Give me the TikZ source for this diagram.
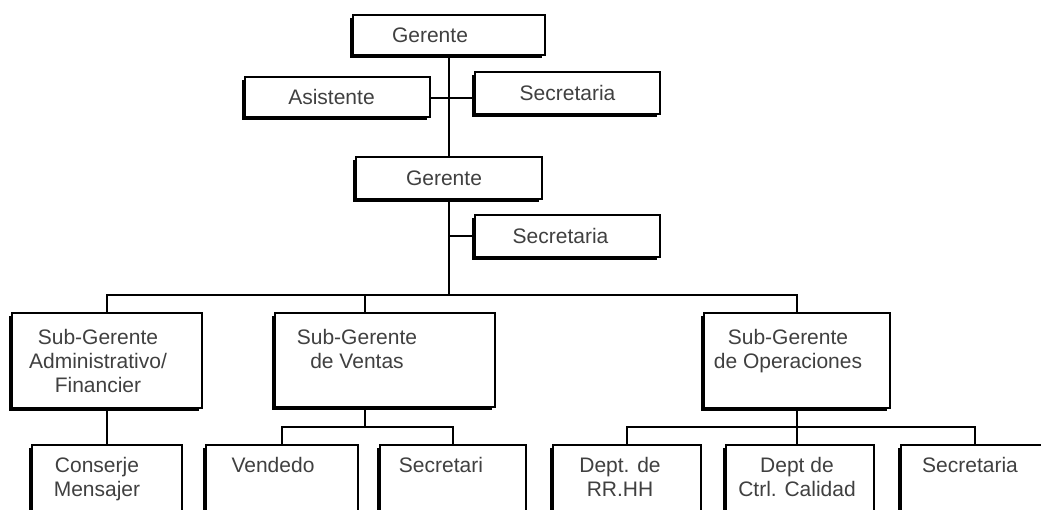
\documentclass[tikz,border=0pt]{standalone}
\usepackage{fontspec}
\setmainfont{Liberation Sans}
\usetikzlibrary{shadows}
\newcommand{\bxt}[5]{\parbox[c][#2pt][t]{#1pt}{\vspace*{#3pt}\centering\hspace*{#4pt}\begin{tabular}{@{}c@{}}#5\end{tabular}}}
\tikzset{
  box/.style={draw=black, line width=1.5pt, fill=white, inner sep=0pt, outer sep=0pt,
    text=black!75, font=\fontsize{21}{24}\selectfont,
    drop shadow={shadow xshift=-3pt, shadow yshift=-3pt, fill=black, opacity=1}},
  conn/.style={draw=black, line width=1.5pt}
}
\begin{document}
\begin{tikzpicture}[x=1pt,y=-1pt]
\useasboundingbox (0,0) rectangle (1041,509);
\fill[white] (0,0) rectangle (1041,509);
\clip (0,0) rectangle (1041,509);
% top level
\node[box] (g1) at (449,35) {\bxt{192}{40}{10.7}{-38}{Gerente}};
\node[box] (asis) at (337.5,97) {\bxt{185}{40}{10.7}{-12}{Asistente}};
\node[box] (sec1) at (567.5,93) {\bxt{185}{42}{11.7}{0}{Secretaria}};
\node[box] (g2) at (449,178) {\bxt{186}{42}{11.7}{-10}{Gerente}};
\node[box] (sec2) at (567.5,236) {\bxt{185}{42}{11.7}{-14}{Secretaria}};
% sub-managers
\node[box] (sga) at (107,360.5) {\bxt{190}{95}{14.7}{-18}{Sub-Gerente\\Administrativo/\\Financier}};
\node[box] (sgv) at (385,360) {\bxt{220}{94}{14.7}{-56}{Sub-Gerente\\de Ventas}};
\node[box] (sgo) at (797,360.5) {\bxt{186}{95}{14.7}{-18}{Sub-Gerente\\de Operaciones}};
% bottom row
\node[box] (cons) at (107,492.5) {\bxt{150}{95}{10.7}{-20}{Conserje\\Mensajer}};
\node[box] (vend) at (282,492.5) {\bxt{152}{95}{10.7}{-18}{Vendedo}};
\node[box] (sec4) at (453,492.5) {\bxt{146}{95}{10.7}{-24}{Secretari}};
\node[box] (rrhh) at (627,492.5) {\bxt{148}{95}{10.7}{-14}{Dept. de\\RR.HH}};
\node[box] (ctrl) at (800,492.5) {\bxt{148}{95}{10.7}{-6}{Dept de\\Ctrl. Calidad}};
\node[box] (sec5) at (975,492.5) {\bxt{148}{95}{10.7}{-10}{Secretaria}};
% junctions
\coordinate (j1) at (449,98);
\coordinate (bar) at (449,295);
\coordinate (vdrop) at (365,295);
\coordinate (vbar) at (365,427);
\coordinate (obar) at (797,427);
% connectors
\draw[conn] (g1.south) -- (g2.north);
\draw[conn] (asis.east |- j1) -- (sec1.west |- j1);
\draw[conn] (g2.south) -- (bar);
\draw[conn] (sec2.west) -- (sec2.west -| g2.south);
\draw[conn] (sga.north) |- (bar) -| (sgo.north);
\draw[conn] (vdrop) -- (vdrop |- sgv.north);
\draw[conn] (sga.south) -- (cons.north);
\draw[conn] (vdrop |- sgv.south) -- (vbar);
\draw[conn] (vend.north) |- (vbar) -| (sec4.north);
\draw[conn] (sgo.south) -- (sgo.south |- ctrl.north);
\draw[conn] (rrhh.north) |- (obar) -| (sec5.north);
\end{tikzpicture}
\end{document}
